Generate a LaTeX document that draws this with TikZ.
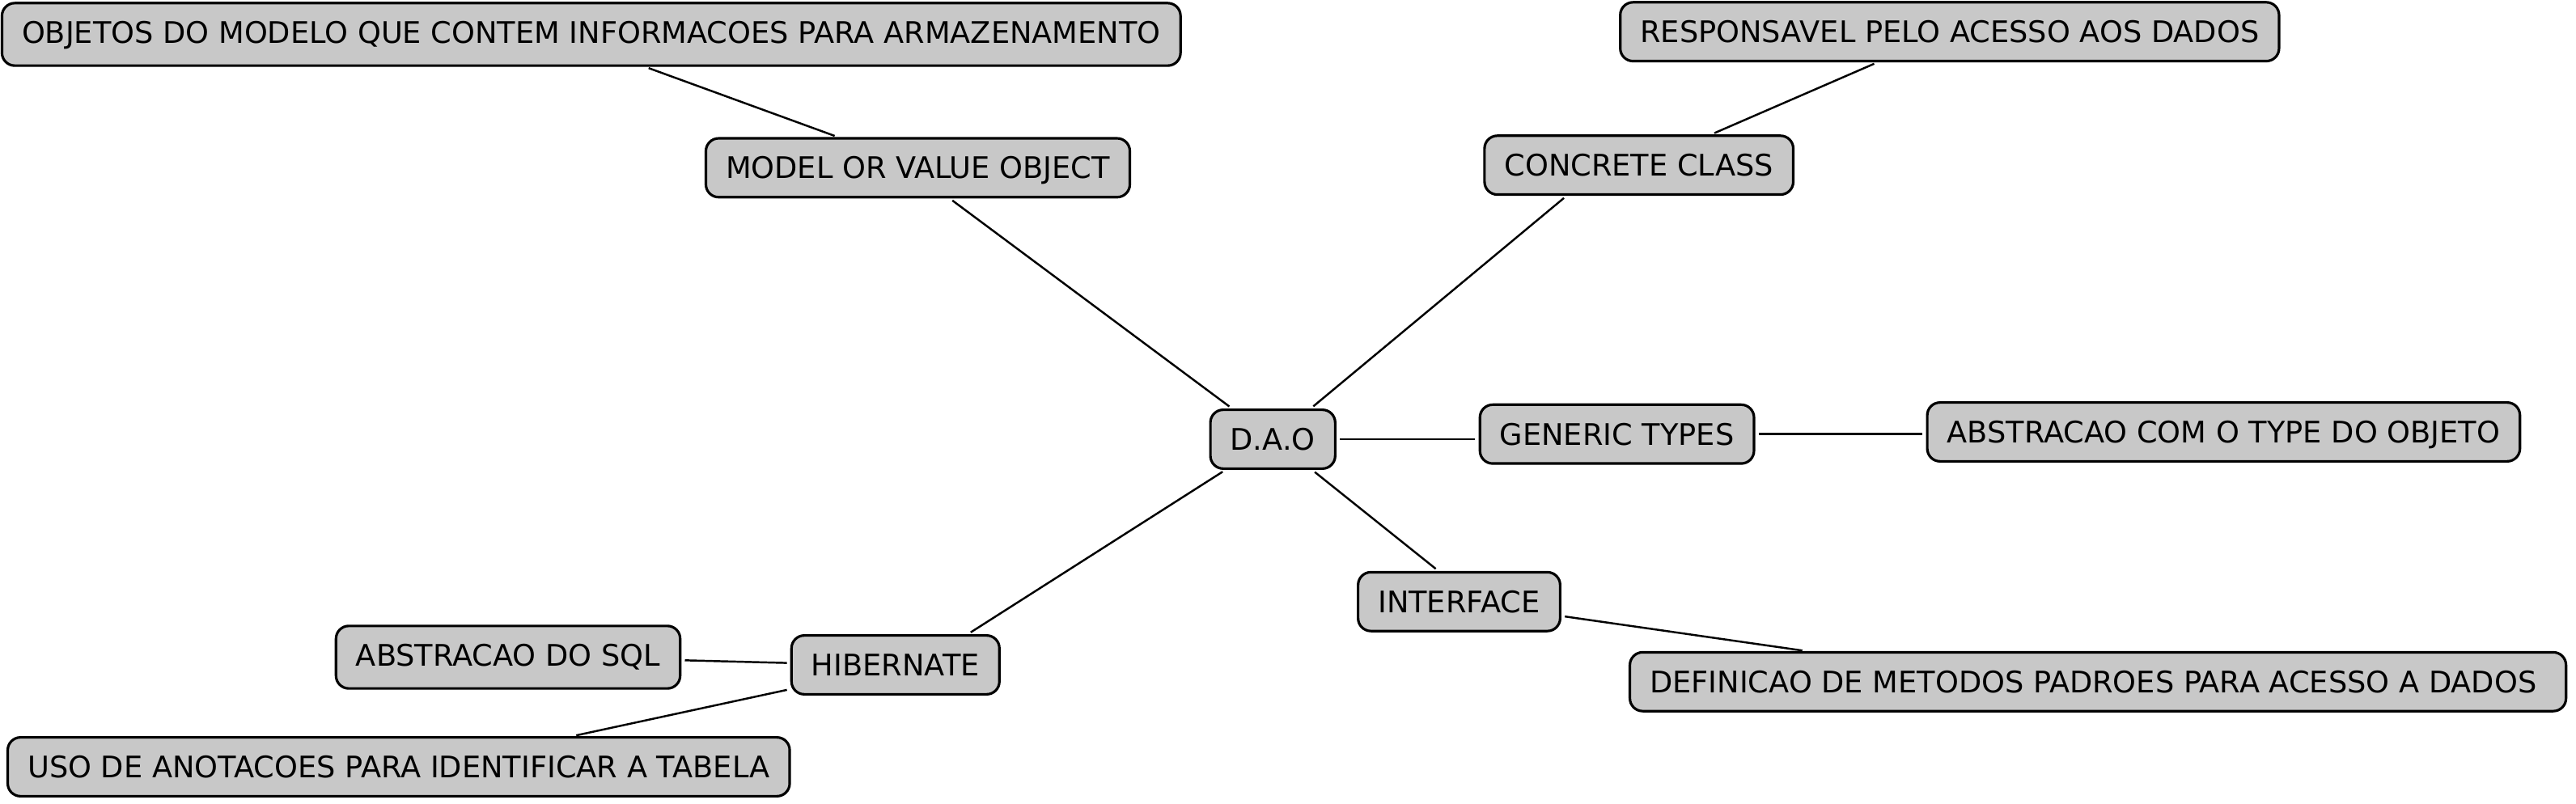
\documentclass[tikz,border=0pt]{standalone}
\usepackage{fontspec}
\setmainfont{DejaVu Sans}
\definecolor{conceptgray}{RGB}{200,200,200}
\begin{document}
\begin{tikzpicture}[auto,
    concept/.style ={rectangle, draw, line width=0.9pt, rounded corners=4.5pt, fill=conceptgray,
      font=\fontsize{10.45}{12}\selectfont, inner xsep=7pt, inner ysep=6.55pt,
      text height=7.6pt, text depth=0pt},
    link/.style ={line width=0.7pt, shorten >=1.2pt, shorten <=1.2pt}]
   \useasboundingbox (0,0) rectangle (31.84,9.93);

   \node[concept] (D) at (15.732,4.500) {D.A.O};
   \node[concept] (M) at (11.345,7.856) {MODEL OR VALUE OBJECT};
   \node[concept, text depth=1.3pt] (O) at (7.308,9.505) {OBJETOS DO MODELO QUE CONTEM INFORMACOES PARA ARMAZENAMENTO};
   \node[concept] (C) at (20.257,7.888) {CONCRETE CLASS};
   \node[concept] (R) at (24.098,9.538) {RESPONSAVEL PELO ACESSO AOS DADOS};
   \node[concept] (G) at (19.986,4.563) {GENERIC TYPES};
   \node[concept] (T) at (27.484,4.590) {ABSTRACAO COM O TYPE DO OBJETO};
   \node[concept] (I) at (18.035,2.492) {INTERFACE};
   \node[concept] (F) at (25.931,1.502) {DEFINICAO DE METODOS PADROES PARA ACESSO A DADOS~\mbox{}};
   \node[concept] (H) at (11.068,1.710) {HIBERNATE};
   \node[concept, text depth=1.3pt] (S) at (6.280,1.805) {ABSTRACAO DO SQL};
   \node[concept] (U) at (4.928,0.450) {USO DE ANOTACOES PARA IDENTIFICAR A TABELA};

   \draw[link] (O.-31) to (M.159);
   \draw[link] (M.-44) to (D.143);
   \draw[link] (R.203) to (C.23);
   \draw[link] (C.203) to (D.39);
   \draw[link] (D.east) to (D.east -| G.west);
   \draw[link] (G.east) to (G.east -| T.west);
   \draw[link] (D.-38) to (I.124);
   \draw[link] (I.-8) to (F.174);
   \draw[link] (D.213) to (H.23);
   \draw[link] (S.-1) to (H.179);
   \draw[link] (H.193) to (U.10);
 \end{tikzpicture}
\end{document}
